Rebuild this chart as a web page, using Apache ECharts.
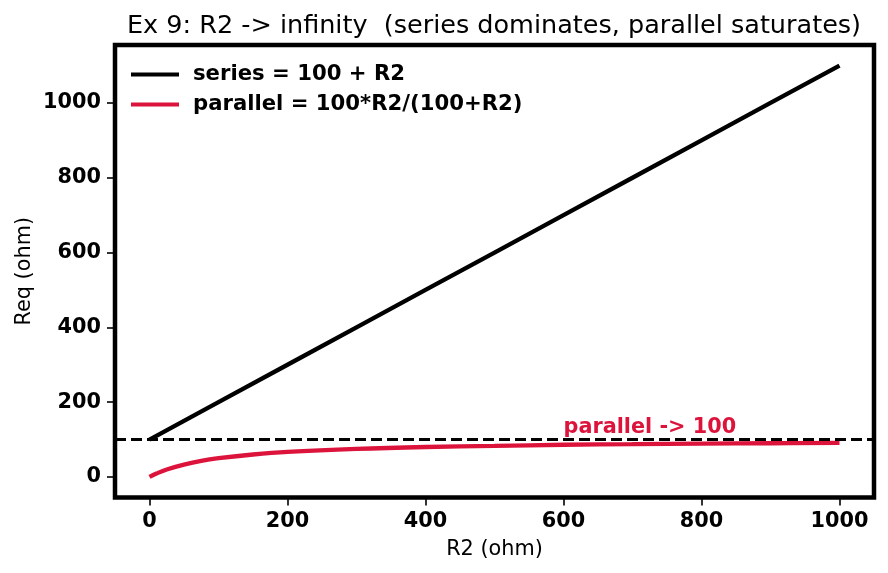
<!DOCTYPE html>
<html>
<head>
<meta charset="utf-8">
<script src="https://cdn.jsdelivr.net/npm/echarts@6/dist/echarts.min.js"></script>
<style>
	html, body { margin: 0; padding: 0; background: #fff; }
	#chart { width: 888px; height: 573px; }
</style>
</head>
<body>
<div id="chart"></div>
<script>
// values
const seriesR2 = [0, 100, 200, 300, 400, 500, 600, 700, 800, 900, 1000]
const seriesReq = [100, 200, 300, 400, 500, 600, 700, 800, 900, 1000, 1100]
const parallelR2 = [0, 10, 25, 50, 75, 100, 150, 200, 300, 400, 500, 600, 700, 800, 900, 1000]
const parallelReq = [0, 9, 20, 33, 43, 50, 60, 67, 75, 80, 83, 86, 87.5, 89, 90, 91]
const xTicks = [0, 200, 400, 600, 800, 1000]
const yTicks = [0, 200, 400, 600, 800, 1000]
const asymptote = 100
const noteText = 'parallel -> 100'
const notePos = [600, 110]

const FONT = 'DejaVu Sans'
const RED = '#dc143c'

let myChart = echarts.init(document.getElementById('chart'))
let option = {
	backgroundColor: '#fff',
	animation: false,
	title: {
		text: 'Ex 9: R2 -> infinity  (series dominates, parallel saturates)',
		left: 489,
		textAlign: 'center',
		top: 8,
		textStyle: { fontFamily: FONT, fontSize: 25.5, fontWeight: 'normal', color: '#000' }
	},
	//位置
	grid: {
		left: 115,
		top: 45,
		right: 14,
		bottom: 75.5,
		outerBoundsMode: 'none',
		containLabel: false,
		show: true,
		borderColor: '#000',
		borderWidth: 4.5,
		z: 10
	},
	legend: {
		orient: 'vertical',
		left: 131,
		top: 64,
		padding: 0,
		icon: 'rect',
		itemWidth: 48,
		itemHeight: 4,
		itemGap: 9,
		textStyle: {
			fontFamily: FONT,
			fontSize: 21.2,
			fontWeight: 'bold',
			color: '#000',
			padding: [0, 0, 0, 9]
		}
	},
	xAxis: {
		type: 'value',
		min: -50,
		max: 1050,
		name: 'R2 (ohm)',
		nameLocation: 'middle',
		nameGap: 42,
		nameTextStyle: { fontFamily: FONT, fontSize: 20.8, color: '#000' },
		axisLine: { show: false, onZero: false },
		axisTick: { show: true, length: 8, lineStyle: { color: '#000', width: 1.6 }, customValues: xTicks },
		axisLabel: {
			fontFamily: FONT, fontSize: 20.8, fontWeight: 'bold', color: '#000', margin: 14,
			customValues: xTicks,
			formatter: (v) => String(v)
		},
		splitLine: { show: false }
	},
	yAxis: {
		type: 'value',
		min: -55,
		max: 1155,
		name: 'Req (ohm)',
		nameLocation: 'middle',
		nameGap: 80,
		nameMoveOverlap: false,
		nameTextStyle: { fontFamily: FONT, fontSize: 20.8, color: '#000' },
		axisLine: { show: false, onZero: false },
		axisTick: { show: true, length: 8, lineStyle: { color: '#000', width: 1.6 }, customValues: yTicks },
		axisLabel: {
			fontFamily: FONT, fontSize: 20.8, fontWeight: 'bold', color: '#000', margin: 14,
			customValues: yTicks,
			formatter: (v) => String(v)
		},
		splitLine: { show: false }
	},
	series: [
		{
			name: 'series = 100 + R2',
			type: 'line',
			symbol: 'none',
			color: '#000',
			lineStyle: { color: '#000', width: 4.3 },
			data: seriesR2.map((x, i) => [x, seriesReq[i]]),
			markLine: {
				silent: true,
				symbol: 'none',
				label: { show: false },
				lineStyle: { color: '#000', type: [11, 5], width: 2.8 },
				data: [{ yAxis: asymptote }]
			},
			z: 3
		},
		{
			name: 'parallel = 100*R2/(100+R2)',
			type: 'line',
			symbol: 'none',
			smooth: 0.4,
			color: RED,
			lineStyle: { color: RED, width: 4.3 },
			data: parallelR2.map((x, i) => [x, parallelReq[i]]),
			markPoint: {
				silent: true,
				symbol: 'circle',
				symbolSize: 0,
				label: {
					show: true,
					formatter: noteText,
					position: [0, 2],
					align: 'left',
					verticalAlign: 'bottom',
					fontFamily: FONT,
					fontSize: 20.8,
					fontWeight: 'bold',
					color: RED
				},
				data: [{ coord: notePos }]
			},
			z: 2
		}
	]
}
myChart.setOption(option)
</script>
</body>
</html>
